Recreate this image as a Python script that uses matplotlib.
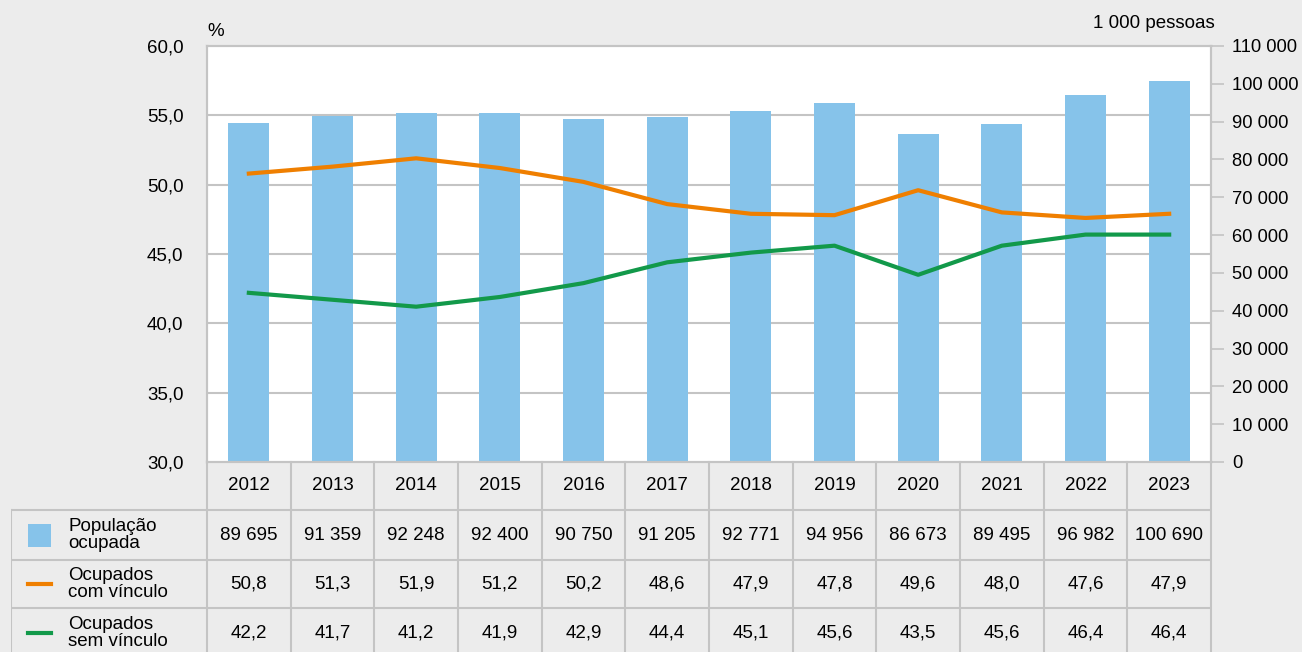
import matplotlib
matplotlib.use("Agg")
import matplotlib.pyplot as plt
from matplotlib import transforms
from matplotlib.ticker import FuncFormatter

plt.rcParams['font.family'] = ['Liberation Sans', 'DejaVu Sans']

anos = ['2012', '2013', '2014', '2015', '2016', '2017', '2018', '2019', '2020', '2021', '2022', '2023']
pop_ocupada = [89695, 91359, 92248, 92400, 90750, 91205, 92771, 94956, 86673, 89495, 96982, 100690]
com_vinculo = [50.8, 51.3, 51.9, 51.2, 50.2, 48.6, 47.9, 47.8, 49.6, 48.0, 47.6, 47.9]
sem_vinculo = [42.2, 41.7, 41.2, 41.9, 42.9, 44.4, 45.1, 45.6, 43.5, 45.6, 46.4, 46.4]
rotulos = ['População\nocupada', 'Ocupados\ncom vínculo', 'Ocupados\nsem vínculo']

BG = '#ececec'
AZUL = '#86c3ea'
LARANJA = '#ef7f00'
VERDE = '#12994a'
CINZA = '#c4c4c4'
FS = 13.5

W, H = 1302, 652
fig = plt.figure(figsize=(W / 100, H / 100), dpi=100, facecolor=BG)

# plot area in pixels
px_l, px_r, px_t, px_b = 207, 1211, 46, 462
ax = fig.add_axes([px_l / W, (H - px_b) / H, (px_r - px_l) / W, (px_b - px_t) / H])
ax.set_facecolor('white')
ax2 = ax.twinx()
ax2.patch.set_visible(False)

x = list(range(len(anos)))

# bars on the right (thousands) axis
ax.bar(x, pop_ocupada, width=0.49, color=AZUL, zorder=2)
ax.set_ylim(0, 110000)
ax.set_yticks(range(0, 110001, 10000))
ax.yaxis.tick_right()
ax.yaxis.set_major_formatter(FuncFormatter(lambda v, p: f"{int(v):,}".replace(',', ' ')))
ax.tick_params(axis='y', length=9, width=1.2, color=CINZA, pad=6, labelsize=13.2)
ax.set_xlim(-0.5, len(anos) - 0.5)
ax.set_xticks([])

# percentage axis on the left
ax2.set_ylim(30, 60)
pct_ticks = [30, 35, 40, 45, 50, 55, 60]
ax2.set_yticks(pct_ticks)
ax2.yaxis.tick_left()
ax2.yaxis.set_major_formatter(FuncFormatter(lambda v, p: f"{v:.1f}".replace('.', ',')))
ax2.tick_params(axis='y', length=0, pad=17, labelsize=FS)
ax2.set_xlim(-0.5, len(anos) - 0.5)

# gridlines for the percentage axis, behind the bars
blend = transforms.blended_transform_factory(ax.transAxes, ax2.transData)
for v in pct_ticks[1:-1]:
    ax.plot([0, 1], [v, v], transform=blend, color=CINZA, lw=1.5, zorder=1)

ax2.plot(x, com_vinculo, color=LARANJA, lw=3, zorder=3)
ax2.plot(x, sem_vinculo, color=VERDE, lw=3, zorder=3)

for a in (ax, ax2):
    for s in a.spines.values():
        s.set_color(CINZA)
        s.set_linewidth(1.5)

fig.text(px_l / W, (H - 31) / H, '%', fontsize=FS, ha='left', va='center')
fig.text(1215 / W, (H - 23) / H, '1 000 pessoas', fontsize=FS, ha='right', va='center')

# data table under the chart
tb_l = 11
cw = (px_r - px_l) / len(anos)
off = (px_l - tb_l) / cw
axt = fig.add_axes([tb_l / W, 0, (px_r - tb_l) / W, (H - px_b) / H])
axt.set_xlim(-0.5 - off, len(anos) - 0.5)
axt.set_ylim(H - px_b, 0)
axt.axis('off')

row_top = [0, 48, 98, 146]
row_bot = [48, 98, 146, 200]
for i in range(len(anos) + 1):
    axt.plot([i - 0.5, i - 0.5], [0, H - px_b], color=CINZA, lw=1.5, clip_on=False)
axt.plot([-0.5 - off] * 2, [row_top[1], H - px_b], color=CINZA, lw=1.5)
for y in row_top[1:]:
    axt.plot([-0.5 - off, len(anos) - 0.5], [y, y], color=CINZA, lw=1.5)

def meio(r):
    return (row_top[r] + row_bot[r]) / 2

for i, ano in enumerate(anos):
    axt.text(i, meio(0), ano, ha='center', va='center', fontsize=FS)
    axt.text(i, meio(1), f"{pop_ocupada[i]:,}".replace(',', ' '), ha='center', va='center', fontsize=FS)
    axt.text(i, meio(2), f"{com_vinculo[i]:.1f}".replace('.', ','), ha='center', va='center', fontsize=FS)
    axt.text(i, meio(3) - 2, f"{sem_vinculo[i]:.1f}".replace('.', ','), ha='center', va='center', fontsize=FS)

mk_l = -0.5 - off + 17 / cw
mk_r = -0.5 - off + 40 / cw
txt_x = -0.5 - off + 57 / cw
axt.fill_between([mk_l, mk_r], meio(1) - 11.5, meio(1) + 11.5, color=AZUL, lw=0)
axt.plot([mk_l, mk_r], [meio(2), meio(2)], color=LARANJA, lw=3)
axt.plot([mk_l, mk_r], [meio(3) - 2, meio(3) - 2], color=VERDE, lw=3)
for r, lab in enumerate(rotulos):
    yy = meio(r + 1) - (2 if r == 2 else 0)
    axt.text(txt_x, yy, lab, ha='left', va='center', fontsize=FS, linespacing=1.0)

fig.savefig('out.png', dpi=100, facecolor=BG)
